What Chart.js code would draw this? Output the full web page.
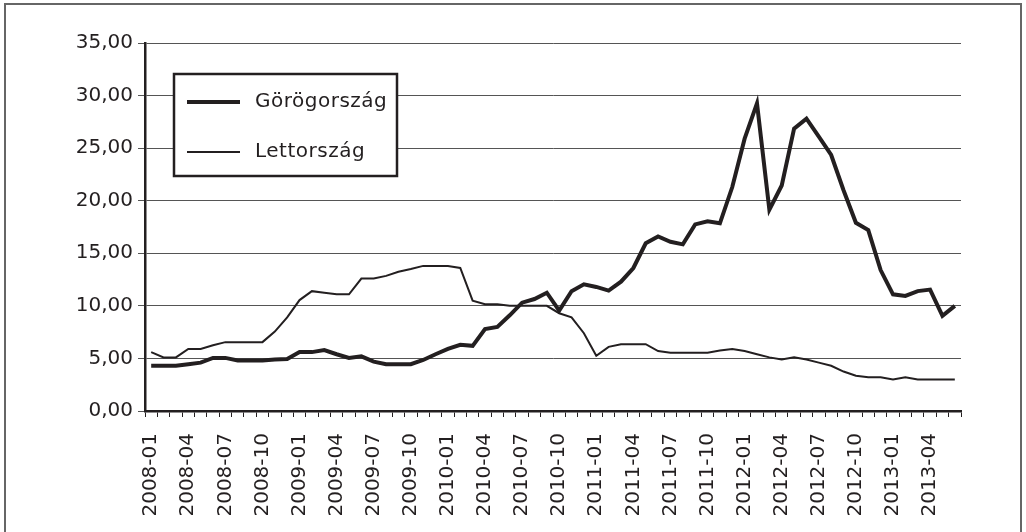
<!DOCTYPE html>
<html>
<head>
<meta charset="utf-8">
<script src="https://cdn.jsdelivr.net/npm/chart.js@4/dist/chart.umd.min.js"></script>
<style>
  html, body { margin: 0; padding: 0; background: #fff; overflow: hidden; }
  #wrap { position: relative; width: 1026px; height: 532px; }
  #frame { position: absolute; left: 4px; top: 3px; width: 1018px; height: 600px; border: 2px solid #666; box-sizing: border-box; pointer-events: none; }
  canvas { position: absolute; left: 0; top: 0; }
</style>
</head>
<body>
<div id="wrap">
  <canvas id="chart" width="1026" height="532"></canvas>
  <div id="frame"></div>
</div>
<script>
// havi adatok 2008-01 .. 2013-06
const years = [2008, 2009, 2010, 2011, 2012, 2013];
const months = [];
years.forEach(y => {
  for (let m = 1; m <= 12; m++) {
    if (y === 2013 && m > 6) break;
    months.push(y + '-' + String(m).padStart(2, '0'));
  }
});

const seriesNames = ['Görögország', 'Lettország'];

const greece = [
  4.3, 4.3, 4.3, 4.45, 4.6, 5.05, 5.05, 4.8, 4.8, 4.8, 4.9, 4.95,
  5.6, 5.6, 5.8, 5.4, 5.05, 5.2, 4.7, 4.45, 4.45, 4.45, 4.85, 5.4,
  5.9, 6.3, 6.2, 7.8, 8.0, 9.1, 10.3, 10.65, 11.25, 9.55, 11.4, 12.05,
  11.8, 11.45, 12.3, 13.6, 15.95, 16.6, 16.1, 15.85, 17.75, 18.05, 17.85, 21.3,
  25.9, 29.25, 19.15, 21.45, 26.85, 27.8, 26.1, 24.35, 21.0, 17.9, 17.2, 13.4,
  11.1, 10.95, 11.4, 11.55, 9.05, 10.0
];

const latvia = [
  5.6, 5.1, 5.1, 5.9, 5.9, 6.25, 6.55, 6.55, 6.55, 6.55, 7.55, 8.9,
  10.55, 11.4, 11.25, 11.1, 11.1, 12.6, 12.6, 12.85, 13.25, 13.5, 13.8, 13.8,
  13.8, 13.6, 10.5, 10.15, 10.15, 10.0, 10.0, 10.0, 10.0, 9.3, 8.9, 7.4,
  5.25, 6.1, 6.35, 6.35, 6.35, 5.7, 5.55, 5.55, 5.55, 5.55, 5.75, 5.9,
  5.7, 5.4, 5.1, 4.9, 5.1, 4.9, 4.6, 4.3, 3.75, 3.35, 3.2, 3.2,
  3.0, 3.2, 3.0, 3.0, 3.0, 3.0
];

const yTicks = [0, 5, 10, 15, 20, 25, 30, 35];

const ink = '#231f20';
const font = { family: 'DejaVu Sans', size: 20 };

// jelmagyarázat keretben, a rajzterületen belül
const boxLegend = {
  id: 'boxLegend',
  afterDatasetsDraw(chart) {
    const ctx = chart.ctx;
    const x = 174, y = 74, w = 223, h = 102;
    ctx.save();
    ctx.fillStyle = '#fff';
    ctx.fillRect(x, y, w, h);
    ctx.strokeStyle = ink;
    ctx.lineWidth = 2.5;
    ctx.strokeRect(x, y, w, h);
    ctx.font = font.size + 'px ' + font.family;
    ctx.textBaseline = 'middle';
    ctx.fillStyle = ink;
    if ('letterSpacing' in ctx) ctx.letterSpacing = '0.5px';
    chart.data.datasets.forEach((ds, i) => {
      const ly = y + 28 + i * 50;
      ctx.beginPath();
      ctx.lineWidth = ds.borderWidth;
      ctx.strokeStyle = ds.borderColor;
      ctx.moveTo(187, ly);
      ctx.lineTo(240, ly);
      ctx.stroke();
      ctx.fillText(ds.label, 255, ly);
    });
    ctx.restore();
  }
};

new Chart(document.getElementById('chart'), {
  type: 'line',
  data: {
    labels: months,
    datasets: [
      { label: seriesNames[0], data: greece, borderColor: ink, borderWidth: 4, pointRadius: 0, tension: 0 },
      { label: seriesNames[1], data: latvia, borderColor: ink, borderWidth: 2, pointRadius: 0, tension: 0 }
    ]
  },
  options: {
    responsive: false,
    animation: false,
    devicePixelRatio: 1,
    layout: { padding: { left: 0, top: 43, right: 65, bottom: 0 } },
    plugins: { legend: { display: false }, tooltip: { enabled: false } },
    scales: {
      x: {
        offset: true,
        grid: { offset: true, drawOnChartArea: false, drawTicks: true, tickLength: 6, color: ink, lineWidth: 1 },
        border: { display: true, color: ink, width: 2.5 },
        ticks: {
          autoSkip: false,
          maxRotation: 90,
          minRotation: 90,
          padding: 16,
          color: ink,
          font: font,
          callback: function (v, i) { return i % 3 === 0 ? this.getLabelForValue(v) : ''; }
        },
        afterFit: s => { s.height = 121; }
      },
      y: {
        min: 0,
        max: 35,
        afterBuildTicks: s => { s.ticks = yTicks.map(v => ({ value: v })); },
        grid: { color: '#555', lineWidth: 1, tickLength: 7 },
        border: { display: true, color: ink, width: 2.5 },
        ticks: {
          padding: 5,
          color: ink,
          font: font,
          callback: v => v.toFixed(2).replace('.', ',')
        },
        afterFit: s => { s.width = 145; }
      }
    }
  },
  plugins: [boxLegend]
});
</script>
</body>
</html>
